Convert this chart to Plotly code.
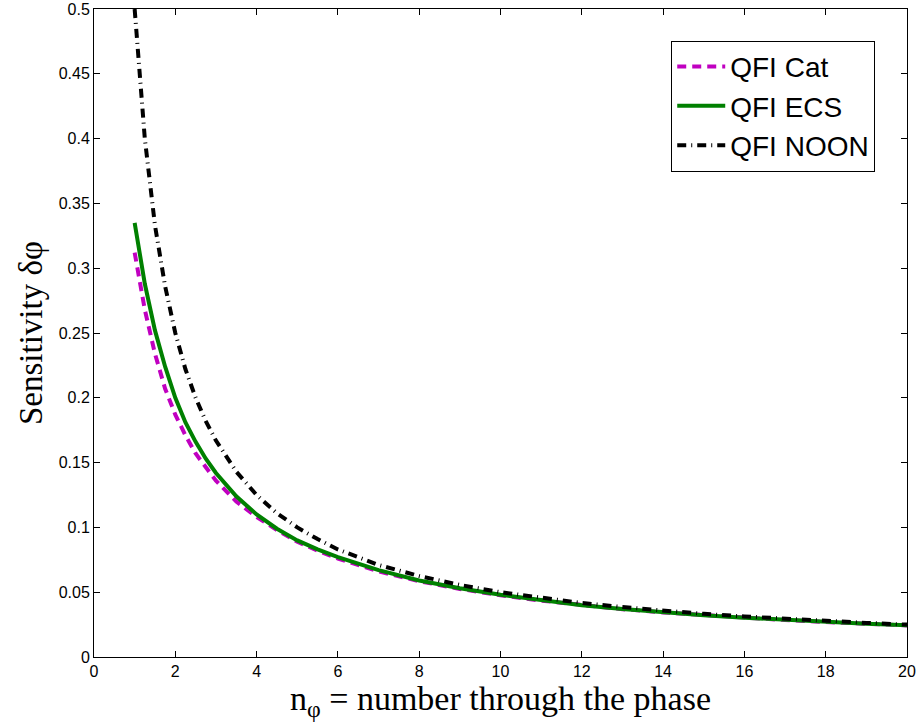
import plotly.graph_objects as go

n_phi = [1, 1.25, 1.5, 1.75, 2, 2.25, 2.5, 2.75, 3, 3.5, 4, 4.5, 5, 5.5, 6, 7, 8, 9, 10,
         11, 12, 13, 14, 15, 16, 17, 18, 19, 20]

qfi_cat = [0.312, 0.268, 0.234, 0.207, 0.187, 0.171, 0.157, 0.146, 0.136, 0.120, 0.108,
           0.098, 0.089, 0.082, 0.076, 0.066, 0.0585, 0.0525, 0.0476, 0.0435, 0.0399,
           0.0369, 0.0344, 0.0322, 0.0302, 0.0285, 0.0270, 0.0256, 0.0244]

qfi_ecs = [0.335, 0.288, 0.252, 0.224, 0.200, 0.181, 0.166, 0.153, 0.142, 0.124, 0.110,
           0.099, 0.090, 0.083, 0.077, 0.067, 0.059, 0.053, 0.048, 0.0437, 0.0400,
           0.0370, 0.0345, 0.0323, 0.0303, 0.0286, 0.0271, 0.0257, 0.0245]

qfi_noon = [0.5, 0.4, 0.333, 0.286, 0.25, 0.222, 0.2, 0.182, 0.167, 0.143, 0.125,
            0.111, 0.1, 0.091, 0.083, 0.071, 0.0625, 0.0556, 0.05, 0.0455, 0.0417,
            0.0385, 0.0357, 0.0333, 0.0313, 0.0294, 0.0278, 0.0263, 0.025]

x_ticks = list(range(0, 21, 2))
y_ticks = [0, 0.05, 0.1, 0.15, 0.2, 0.25, 0.3, 0.35, 0.4, 0.45, 0.5]
y_tick_text = ["0", "0.05", "0.1", "0.15", "0.2", "0.25", "0.3", "0.35", "0.4", "0.45", "0.5"]

fig = go.Figure()
fig.add_trace(go.Scatter(x=n_phi, y=qfi_cat, mode="lines", name="QFI Cat",
                         line=dict(color="#c000c0", width=4, dash="9px,6px")))
fig.add_trace(go.Scatter(x=n_phi, y=qfi_ecs, mode="lines", name="QFI ECS",
                         line=dict(color="#008000", width=4)))
fig.add_trace(go.Scatter(x=n_phi, y=qfi_noon, mode="lines", name="QFI NOON",
                         line=dict(color="black", width=4, dash="9px,5px,1px,5px")))

tick_font = dict(family="Liberation Sans, Arial", size=16, color="black")
axis_common = dict(showline=True, linecolor="black", linewidth=1, mirror="ticks",
                   ticks="inside", ticklen=6, tickcolor="black", showgrid=False,
                   zeroline=False, tickfont=tick_font, ticklabeloverflow="allow",
                   automargin=False)

fig.update_layout(
    width=917, height=726,
    margin=dict(l=94, r=10, t=9, b=69, autoexpand=False),
    paper_bgcolor="white", plot_bgcolor="white",
    showlegend=True,
    legend=dict(x=0.71, y=0.951, xanchor="left", yanchor="top",
                bordercolor="black", borderwidth=1, bgcolor="white",
                font=dict(family="Liberation Sans, Arial", size=28, color="black"),
                itemwidth=48, tracegroupgap=0),
    xaxis=dict(range=[0, 20], tickvals=x_ticks, **axis_common,
               title=dict(text="n<sub>φ</sub> = number through the phase",
                          font=dict(family="Liberation Serif, Times New Roman", size=34, color="black"),
                          standoff=0)),
    yaxis=dict(range=[0, 0.5], tickvals=y_ticks, ticktext=y_tick_text, **axis_common,
               title=dict(text="Sensitivity δφ",
                          font=dict(family="Liberation Serif, Times New Roman", size=33, color="black"),
                          standoff=6)),
)

fig.write_html("out.html", config={"displayModeBar": False},
               post_script="document.body.style.margin='0';")
